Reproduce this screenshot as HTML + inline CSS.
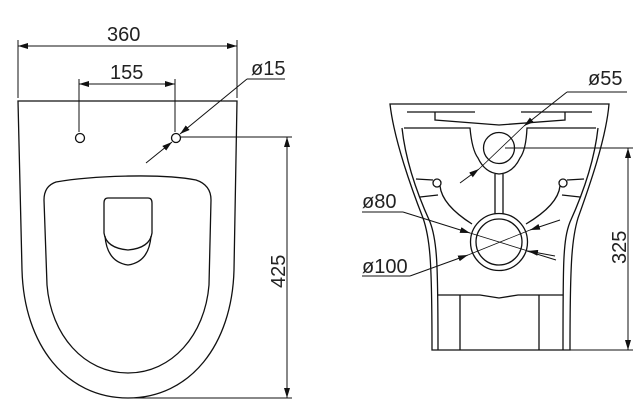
<!DOCTYPE html>
<html><head><meta charset="utf-8"><style>
html,body{margin:0;padding:0;background:#fff}
svg{display:block}
text{font-family:"Liberation Sans",sans-serif;font-size:20px;fill:#222}
</style></head><body>
<svg width="643" height="414" viewBox="0 0 643 414" xmlns="http://www.w3.org/2000/svg">
<defs>
<marker id="a" viewBox="0 0 10 6" refX="10" refY="3" markerWidth="10" markerHeight="6" orient="auto-start-reverse" markerUnits="userSpaceOnUse"><path d="M0,0L10,3L0,6z" fill="#111"/></marker>
</defs>
<g fill="none" stroke="#111" stroke-width="1.3">
<line x1="18" y1="40" x2="18" y2="98" stroke-width="1"/>
<line x1="237" y1="40" x2="237" y2="98" stroke-width="1"/>
<line x1="18" y1="46" x2="237" y2="46" stroke-width="1" marker-start="url(#a)" marker-end="url(#a)"/>
<line x1="79" y1="79" x2="79" y2="132" stroke-width="1"/>
<line x1="175" y1="79" x2="175" y2="132" stroke-width="1"/>
<line x1="79" y1="84" x2="175" y2="84" stroke-width="1" marker-start="url(#a)" marker-end="url(#a)"/>
<line x1="247" y1="79" x2="285" y2="79" stroke-width="1"/>
<line x1="247" y1="79" x2="180" y2="134" stroke-width="1" marker-end="url(#a)"/>
<line x1="146" y1="163" x2="172" y2="142" stroke-width="1" marker-end="url(#a)"/>
<path d="M18,101 L237,101 L234,270 C232,345 190,398 128,398 C66,398 24,345 22,270 Z"/>
<circle cx="80" cy="138" r="4.5"/>
<circle cx="176" cy="138" r="4.5"/>
<path d="M56,182 C90,176 160,173 196,180 Q211,185 211,200 L209,285 C205,335 172,373 128,373 C84,373 51,335 47,285 L44,200 Q44,186 56,182 Z"/>
<path d="M108,198 L148,198 Q152,198 152,203 L152,233 Q150,248 128,250 Q106,248 104,233 L104,203 Q104,198 108,198 Z"/>
<path d="M105,236 Q107,262 128,265 Q149,262 151,236"/>
<line x1="180" y1="137" x2="292" y2="137" stroke-width="1"/>
<line x1="130" y1="398" x2="292" y2="398" stroke-width="1"/>
<line x1="287" y1="137" x2="287" y2="398" stroke-width="1" marker-start="url(#a)" marker-end="url(#a)"/>

<path d="M390,104 L609,104 C606,140 588,190 578,218 C572,238 570,260 570,350 L432,350 C432,260 430,238 423,218 C412,190 394,140 390,104 Z"/>
<path d="M402,128 C406,165 420,200 430,222 C437,240 438,262 438,350"/>
<path d="M598,128 C594,165 580,200 570,222 C563,240 563,262 563,350"/>
<line x1="407" y1="112" x2="475" y2="112"/>
<line x1="521" y1="112" x2="592" y2="112"/>
<path d="M435,112 L435,120 L499,125 L565,120 L565,112"/>
<path d="M404,128 L470,128 Q472,150 478,158 Q485,173 499,174 Q513,173 520,158 Q526,150 527,128 L596,128"/>
<circle cx="499" cy="148" r="15.5"/>
<line x1="495" y1="174" x2="495" y2="214"/>
<line x1="503" y1="174" x2="503" y2="214"/>
<circle cx="499" cy="242" r="28.5"/>
<circle cx="499" cy="242" r="23"/>
<circle cx="437" cy="183" r="4"/>
<circle cx="563" cy="183" r="4"/>
<line x1="416" y1="179" x2="433" y2="180"/>
<line x1="420" y1="197" x2="438" y2="195"/>
<line x1="584" y1="179" x2="567" y2="180"/>
<line x1="580" y1="197" x2="562" y2="195"/>
<path d="M440,186 Q442,205 472,224"/>
<path d="M560,186 Q558,205 526,224"/>
<path d="M438,295 L480,295 L499,298 L518,295 L563,295"/>
<line x1="460" y1="295" x2="460" y2="350"/>
<line x1="539" y1="295" x2="539" y2="350"/>
<line x1="567" y1="92" x2="627" y2="92" stroke-width="1"/>
<line x1="567" y1="92" x2="524" y2="126" stroke-width="1" marker-end="url(#a)"/>
<line x1="460" y1="183" x2="479" y2="169" stroke-width="1" marker-end="url(#a)"/>
<line x1="505" y1="148" x2="633" y2="148" stroke-width="1"/>
<line x1="570" y1="350" x2="633" y2="350" stroke-width="1"/>
<line x1="628" y1="148" x2="628" y2="350" stroke-width="1" marker-start="url(#a)" marker-end="url(#a)"/>
<line x1="362" y1="212" x2="403" y2="212" stroke-width="1"/>
<line x1="403" y1="212" x2="470" y2="233" stroke-width="1" marker-end="url(#a)"/>
<line x1="527" y1="251" x2="556" y2="260" stroke-width="1"/>
<line x1="555" y1="256" x2="528" y2="251" stroke-width="1" marker-end="url(#a)"/>
<line x1="362" y1="276" x2="410" y2="276" stroke-width="1"/>
<line x1="410" y1="276" x2="468" y2="255" stroke-width="1" marker-end="url(#a)"/>
<line x1="560" y1="220" x2="530" y2="230" stroke-width="1" marker-end="url(#a)"/>
<line x1="470" y1="233" x2="528" y2="251" stroke-width="0.8"/>
<line x1="468" y1="255" x2="530" y2="230" stroke-width="0.8"/>
<line x1="479" y1="169" x2="524" y2="126" stroke-width="0.8"/>
</g>
<text x="107" y="41">360</text>
<text x="110" y="79">155</text>
<text x="251" y="75">ø15</text>
<text x="588" y="85">ø55</text>
<text x="362" y="208">ø80</text>
<text x="362" y="273">ø100</text>
<text transform="translate(285,288) rotate(-90)">425</text>
<text transform="translate(626,264) rotate(-90)">325</text>
</svg>
</body></html>
